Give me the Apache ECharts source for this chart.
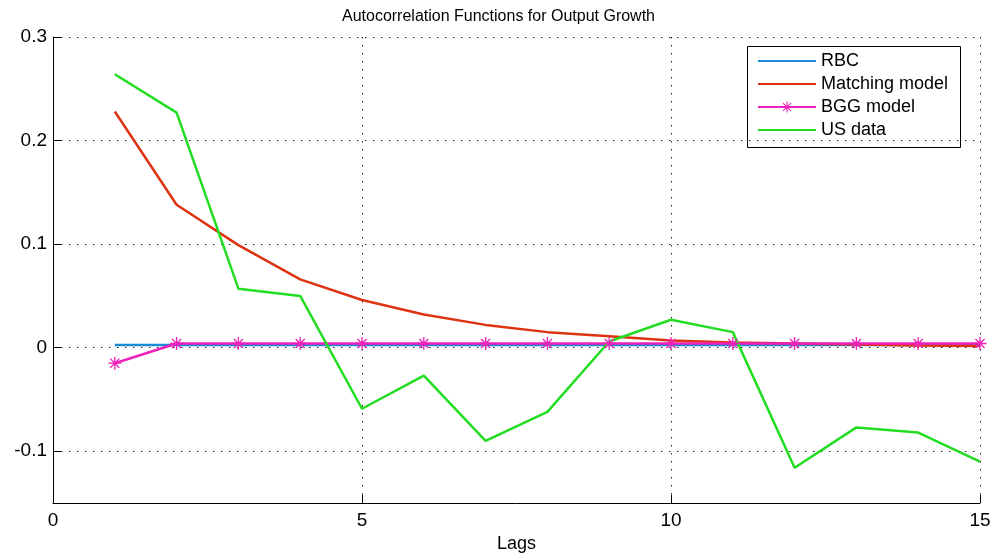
<!DOCTYPE html>
<html>
<head>
<meta charset="utf-8">
<script src="https://cdn.jsdelivr.net/npm/echarts@6/dist/echarts.min.js"></script>
<style>
	html, body { margin: 0; padding: 0; background: #fff; }
	#chart { width: 997px; height: 558px; }
</style>
</head>
<body>
<div id="chart"></div>
<script>
	// lags on the x axis
	var lags = [1, 2, 3, 4, 5, 6, 7, 8, 9, 10, 11, 12, 13, 14, 15];
	// autocorrelations
	var rbc = [0.0025, 0.0025, 0.0025, 0.0025, 0.0025, 0.0025, 0.0025, 0.0025, 0.0025, 0.0025, 0.0025, 0.0025, 0.0025, 0.0025, 0.0025];
	var matching = [0.228, 0.138, 0.099, 0.066, 0.046, 0.032, 0.022, 0.015, 0.011, 0.007, 0.005, 0.004, 0.003, 0.002, 0.0015];
	var bgg = [-0.015, 0.004, 0.004, 0.004, 0.004, 0.004, 0.004, 0.004, 0.004, 0.004, 0.004, 0.004, 0.004, 0.004, 0.004];
	var usData = [0.264, 0.227, 0.057, 0.050, -0.059, -0.027, -0.090, -0.062, 0.006, 0.027, 0.015, -0.116, -0.077, -0.082, -0.110];
	var yTicks = [-0.1, 0, 0.1, 0.2, 0.3];

	function pairs(vals) {
		return lags.map(function (x, i) { return [x, vals[i]]; });
	}

	// asterisk marker like matlab '*'
	var asterisk = 'path://M-1,-10L1,-10L1,10L-1,10Z' +
		'M-10,-1L10,-1L10,1L-10,1Z' +
		'M-6.29,-7.71L7.71,6.29L6.29,7.71L-7.71,-6.29Z' +
		'M-6.29,7.71L-7.71,6.29L6.29,-7.71L7.71,-6.29Z';

	var font = 'Liberation Sans, Arial, Helvetica, sans-serif';
	var dotted = { color: '#222', width: 1, type: [1.5, 6.5] };
	var noMarker = { opacity: 0 };

	var chart = echarts.init(document.getElementById('chart'));
	chart.setOption({
		animation: false,
		title: {
			text: 'Autocorrelation Functions for Output Growth',
			left: 'center',
			top: 4,
			textStyle: { fontFamily: font, fontSize: 16, fontWeight: 'normal', color: '#000' }
		},
		legend: {
			orient: 'vertical',
			left: 747,
			top: 50,
			padding: [2, 10, 2, 10],
			itemGap: 5,
			itemWidth: 58,
			itemHeight: 14,
			textStyle: { fontFamily: font, fontSize: 18, color: '#000' },
			data: [
				{ name: 'RBC', itemStyle: noMarker },
				{ name: 'Matching model', itemStyle: noMarker },
				{ name: 'BGG model' },
				{ name: 'US data', itemStyle: noMarker }
			]
		},
		graphic: [{
			type: 'rect',
			shape: { x: 747.5, y: 46.5, width: 213, height: 101 },
			style: { fill: 'none', stroke: '#000', lineWidth: 1 },
			z: 100
		}],
		grid: { left: 53, right: 17, top: 37, bottom: 53 },
		xAxis: {
			type: 'value',
			min: 0,
			max: 15,
			interval: 5,
			name: 'Lags',
			nameLocation: 'middle',
			nameGap: 32,
			nameTextStyle: { fontFamily: font, fontSize: 18, color: '#000' },
			axisLine: { onZero: false, lineStyle: { color: '#000', width: 1 } },
			axisTick: { inside: true, length: 8, lineStyle: { color: '#000' } },
			axisLabel: { fontFamily: font, fontSize: 19, color: '#000', margin: 8 },
			splitLine: { show: true, lineStyle: dotted }
		},
		yAxis: {
			type: 'value',
			min: -0.15,
			max: 0.3,
			interval: 0.05,
			axisLine: { show: true, onZero: false, lineStyle: { color: '#000', width: 1 } },
			axisTick: { inside: true, length: 8, customValues: yTicks, lineStyle: { color: '#000' } },
			axisLabel: {
				fontFamily: font, fontSize: 19, color: '#000', margin: 6,
				customValues: yTicks,
				formatter: function (v) { return String(Math.round(v * 10) / 10); }
			},
			splitLine: { show: true, lineStyle: dotted }
		},
		series: [{
			name: 'RBC',
			type: 'line',
			data: pairs(rbc),
			symbol: 'none',
			lineStyle: { color: '#1a8ad4', width: 2.5 },
			itemStyle: { color: '#1a8ad4' }
		}, {
			name: 'Matching model',
			type: 'line',
			data: pairs(matching),
			symbol: 'none',
			lineStyle: { color: '#dd3311', width: 2.5 },
			itemStyle: { color: '#dd3311' }
		}, {
			name: 'BGG model',
			type: 'line',
			data: pairs(bgg),
			symbol: asterisk,
			symbolSize: 13,
			lineStyle: { color: '#ee22bb', width: 2.5 },
			itemStyle: { color: '#ee22bb' }
		}, {
			name: 'US data',
			type: 'line',
			data: pairs(usData),
			symbol: 'none',
			lineStyle: { color: '#22dd22', width: 2.5 },
			itemStyle: { color: '#22dd22' }
		}]
	});
</script>
</body>
</html>
